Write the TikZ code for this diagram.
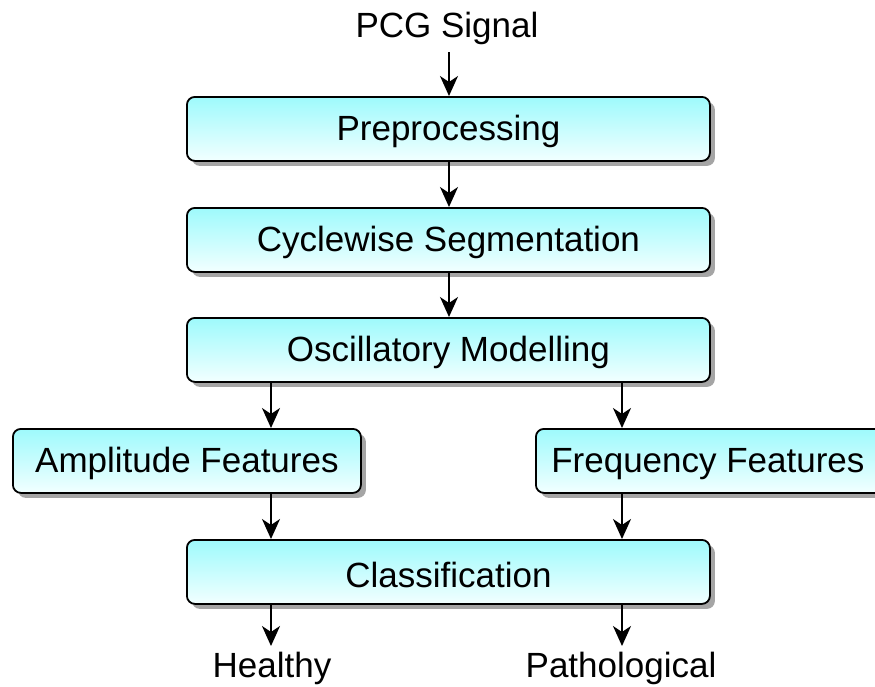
\documentclass[tikz,border=0pt]{standalone}
\usepackage{fontspec}
\setmainfont{Liberation Sans}
\usetikzlibrary{arrows.meta,shadows}
\definecolor{boxtop}{RGB}{158,250,252}
\definecolor{boxbot}{RGB}{242,255,255}
\definecolor{shadowgray}{RGB}{165,165,165}
\tikzset{
  stage/.style={draw=black, line width=1.8pt, rounded corners=8pt,
    top color=boxtop, bottom color=boxbot,
    drop shadow={shadow xshift=5pt, shadow yshift=-5pt, fill=shadowgray, opacity=1},
    inner sep=0pt, anchor=north west},
  label/.style={font=\fontsize{35}{40}\selectfont, inner sep=0pt},
  flow/.style={line width=2pt, -{Stealth[length=20pt,width=18pt,inset=6pt]}}
}
\begin{document}
\begin{tikzpicture}[x=1pt,y=-1pt]
\useasboundingbox (0,0) rectangle (875,686);
\clip (0,0) rectangle (875,686);
% input and outputs
\node[label] (sig) at (447,28) {PCG Signal};
\node[label] (healthy) at (272,668) {Healthy};
\node[label] (patho) at (621,668) {Pathological};
% processing stages
\node[stage, minimum width=523pt, minimum height=64pt] (pre) at (186,96) {};
\node[label] at ([yshift=-3pt]pre.center) {Preprocessing};
\node[stage, minimum width=523pt, minimum height=64pt] (seg) at (186,207) {};
\node[label] at ([yshift=-3pt]seg.center) {Cyclewise Segmentation};
\node[stage, minimum width=523pt, minimum height=64pt] (osc) at (186,317) {};
\node[label] at ([yshift=-3pt]osc.center) {Oscillatory Modelling};
\node[stage, minimum width=348pt, minimum height=64pt] (amp) at (12,428) {};
\node[label] at ([yshift=-3pt]amp.center) {Amplitude Features};
\node[stage, minimum width=348pt, minimum height=64pt] (freq) at (535,428) {};
\node[label] at ([xshift=-2pt,yshift=-3pt]freq.center) {Frequency Features};
\node[stage, minimum width=523pt, minimum height=64pt] (cls) at (186,539) {};
\node[label] at ([yshift=-3pt]cls.center) {Classification};
% connectors
\coordinate (a1) at (449,52);
\draw[flow] (a1) -- (a1 |- pre.north);
\draw[flow] (pre.south -| a1) -- (seg.north -| a1);
\draw[flow] (seg.south -| a1) -- (osc.north -| a1);
\coordinate (bl) at (271,0);
\coordinate (br) at (622,0);
\draw[flow] (osc.south -| bl) -- (amp.north -| bl);
\draw[flow] (osc.south -| br) -- (freq.north -| br);
\draw[flow] (amp.south -| bl) -- (cls.north -| bl);
\draw[flow] (freq.south -| br) -- (cls.north -| br);
\coordinate (hl) at (271,646);
\coordinate (pr) at (622,646);
\draw[flow] (cls.south -| bl) -- (hl);
\draw[flow] (cls.south -| br) -- (pr);
\end{tikzpicture}
\end{document}
